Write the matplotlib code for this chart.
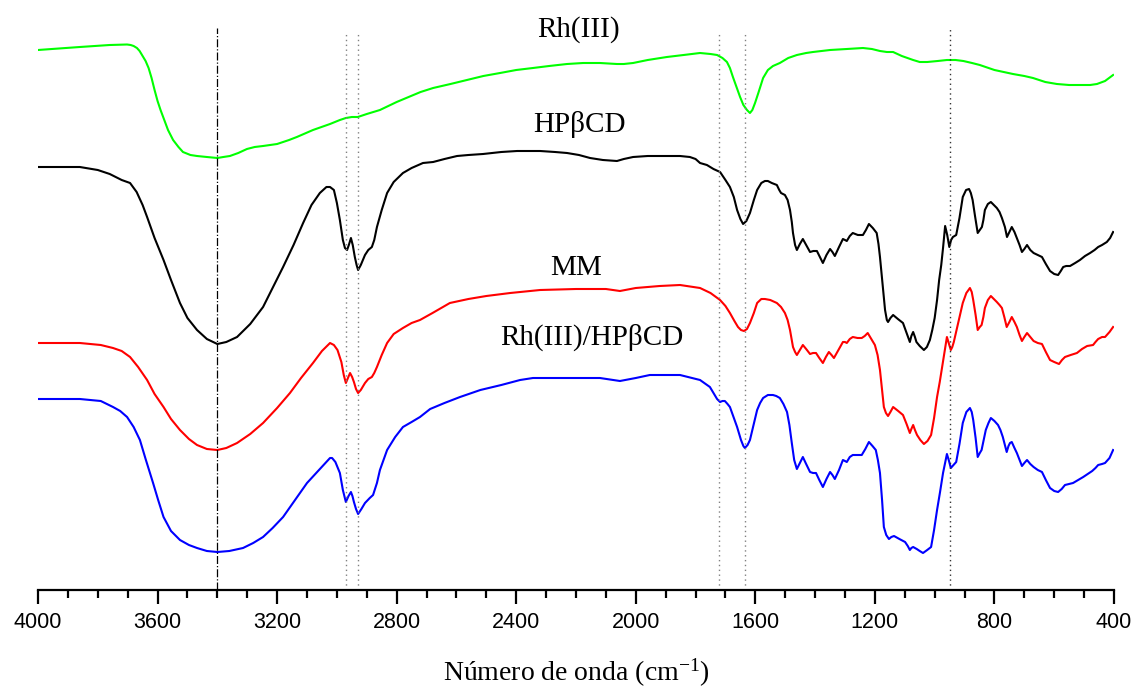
import matplotlib
matplotlib.use("Agg")
import matplotlib.pyplot as plt
from matplotlib.ticker import MultipleLocator

# FTIR spectra: wavenumber (cm-1) and relative transmittance (arbitrary units, offset per trace)
rh_wn = [4000, 3860, 3760, 3702, 3690, 3680, 3669, 3660, 3650, 3640, 3630, 3620, 3610,
         3600, 3590, 3580, 3565, 3548, 3530, 3515, 3490, 3468, 3435, 3400, 3380, 3358,
         3330, 3301, 3275, 3247, 3200, 3160, 3134, 3080, 3023, 2990, 2970, 2950, 2930,
         2900, 2856, 2800, 2760, 2720, 2678, 2620, 2565, 2510, 2454, 2400, 2344, 2290,
         2230, 2176, 2120, 2063, 2040, 2009, 1960, 1896, 1840, 1785, 1750, 1728, 1710,
         1695, 1685, 1675, 1663, 1651, 1640, 1628, 1618, 1610, 1601, 1590, 1574, 1558,
         1541, 1518, 1490, 1461, 1430, 1407, 1350, 1294, 1240, 1210, 1183, 1160, 1139,
         1110, 1072, 1050, 1025, 990, 959, 930, 904, 875, 849, 800, 738, 700, 671, 630,
         591, 550, 514, 480, 457, 430, 403]
rh_t = [540, 543, 545, 545.5, 545, 544, 542, 539, 534, 529, 522, 512, 500,
        489, 480, 472, 460, 450, 443, 438, 435, 434, 433, 432, 433, 434,
        437, 441, 443, 444, 446, 450, 453, 460, 466, 470, 472, 473, 473,
        476, 480, 488, 493, 498, 502, 506, 510, 514, 517, 520, 522, 524,
        526, 527, 527, 526, 526, 527, 530, 533, 535, 537, 536, 535, 532,
        528, 522, 513, 503, 493, 485, 480, 477, 480, 487, 497, 512, 520,
        524, 527, 532, 535, 537, 538, 540, 541, 542, 541, 539, 538, 538,
        534, 530, 528, 528, 529, 530, 530, 529, 527, 525, 520, 516, 514, 512, 508,
        506, 505, 505, 505, 506, 509, 515]

hp_wn = [4000, 3930, 3860, 3800, 3760, 3720, 3692, 3670, 3650, 3635, 3610, 3580, 3555,
         3525, 3500, 3468, 3435, 3400, 3370, 3334, 3290, 3247, 3215, 3180, 3145, 3113,
         3085, 3057, 3035, 3023, 3010, 3000, 2990, 2980, 2973, 2966, 2960, 2953, 2947,
         2940, 2934, 2929, 2920, 2906, 2895, 2883, 2875, 2866, 2850, 2832, 2810, 2779,
         2750, 2712, 2678, 2640, 2598, 2560, 2511, 2450, 2397, 2320, 2270, 2230, 2190,
         2153, 2110, 2063, 2040, 2009, 1960, 1896, 1852, 1819, 1800, 1785, 1762, 1740,
         1718, 1700, 1685, 1672, 1661, 1650, 1641, 1630, 1618, 1605, 1594, 1580, 1568,
         1558, 1545, 1528, 1520, 1514, 1501, 1492, 1484, 1478, 1474, 1467, 1461, 1451,
         1441, 1430, 1417, 1406, 1394, 1384, 1374, 1362, 1350, 1342, 1334, 1320, 1307,
         1300, 1294, 1284, 1274, 1257, 1240, 1230, 1220, 1207, 1194, 1188, 1183, 1175,
         1166, 1160, 1156, 1148, 1139, 1123, 1106, 1095, 1083, 1078, 1072, 1066, 1061,
         1050, 1036, 1026, 1016, 1008, 1000, 992, 985, 978, 972, 965, 958, 951, 945, 939,
         928, 917, 906, 895, 885, 879, 873, 865, 856, 849, 842, 837, 832, 822, 812, 802,
         792, 783, 775, 765, 758, 750, 742, 733, 725, 716, 708, 700, 691, 680, 669, 655,
         641, 628, 614, 600, 587, 578, 570, 560, 547, 530, 514, 497, 480, 465, 453, 440,
         424, 413, 403]
hp_t = [423, 423, 423, 420, 416, 410, 407, 398, 385, 373, 352, 330, 310,
        287, 272, 260, 251, 246, 248, 253, 266, 283, 302, 323, 345, 367,
        385, 397, 403, 403, 400, 387, 370, 350, 342, 340, 345, 352, 345,
        333, 325, 320, 325, 335, 340, 343, 350, 363, 380, 397, 408, 417,
        422, 427, 428, 431, 434, 435, 436, 438, 439, 439, 438, 437, 435,
        432, 430, 429, 431, 433, 434, 434, 434, 433, 431, 427, 425, 421,
        418, 410, 403, 393, 380, 371, 366, 369, 377, 390, 400, 407, 409,
        409, 407, 405, 400, 397, 395, 390, 380, 368, 357, 345, 340, 346,
        351, 345, 338, 339, 339, 333, 327, 335, 341, 338, 334, 343, 351,
        350, 349, 354, 357, 355, 355, 360, 366, 362, 357, 346, 333, 308,
        280, 270, 268, 272, 275, 271, 267, 258, 248, 254, 258, 253, 248,
        244, 240, 243, 250, 260, 272, 290, 310, 325, 342, 364, 355, 343, 350, 353,
        355, 372, 393, 400, 401, 397, 390, 374, 357, 360, 363, 370, 380, 386, 388, 385,
        382, 378, 372, 363, 353, 358, 363, 358, 352, 345, 338, 341, 345, 340, 337, 335,
        333, 326, 319, 316, 315, 319, 323, 324, 324, 327, 330, 334, 337, 340, 343, 345,
        348, 352, 358]

mm_wn = [4000, 3860, 3790, 3749, 3720, 3692, 3665, 3635, 3610, 3580, 3555, 3525, 3495,
         3468, 3435, 3400, 3370, 3334, 3290, 3247, 3200, 3157, 3120, 3080, 3050, 3023,
         3010, 2998, 2985, 2977, 2970, 2963, 2956, 2949, 2943, 2936, 2929, 2920, 2906,
         2895, 2883, 2875, 2866, 2850, 2832, 2810, 2779, 2750, 2722, 2680, 2622, 2560,
         2500, 2420, 2320, 2200, 2100, 2053, 2000, 1920, 1852, 1785, 1750, 1718, 1700,
         1685, 1670, 1658, 1648, 1638, 1628, 1618, 1605, 1594, 1580, 1568, 1550, 1528,
         1514, 1501, 1492, 1484, 1478, 1474, 1467, 1461, 1451, 1441, 1430, 1417, 1407,
         1397, 1386, 1374, 1364, 1354, 1345, 1337, 1322, 1307, 1300, 1294, 1284, 1274,
         1258, 1244, 1234, 1224, 1212, 1200, 1191, 1183, 1176, 1170, 1163, 1156, 1148,
         1139, 1122, 1106, 1094, 1083, 1078, 1072, 1066, 1059, 1048, 1036, 1024, 1012,
         1002, 992, 983, 975, 967, 959, 952, 946, 941, 936, 922, 906, 894, 882, 876, 871,
         863, 856, 849, 843, 837, 832, 822, 812, 802, 792, 783, 775, 767, 759, 750, 742,
         733, 725, 716, 708, 700, 691, 680, 669, 655, 641, 628, 614, 600, 584, 574, 564,
         545, 524, 507, 490, 470, 462, 453, 440, 430, 415, 403]
mm_t = [247, 247, 245, 242, 239, 233, 223, 210, 196, 183, 171, 160, 151,
        145, 141, 140, 142, 147, 156, 167, 182, 197, 212, 227, 239, 247,
        245, 240, 228, 215, 207, 212, 217, 213, 208, 201, 197, 200, 207,
        211, 213, 217, 223, 235, 247, 256, 262, 267, 270, 277, 287, 291,
        294, 297, 300, 301, 301, 299, 302, 304, 305, 302, 297, 290, 284,
        277, 269, 263, 260, 259, 261, 267, 277, 287, 291, 291, 290, 287,
        283, 277, 270, 260, 250, 243, 238, 235, 240, 245, 241, 236, 237,
        237, 232, 227, 233, 238, 235, 232, 240, 248, 248, 247, 251, 253,
        252, 252, 254, 257, 251, 245, 235, 220, 200, 183, 177, 174, 178,
        183, 179, 175, 166, 157, 161, 165, 160, 155, 150, 146, 149, 155,
        172, 193, 208, 223, 238, 253, 246, 240, 243, 248, 266, 287, 297, 302, 298, 290,
        275, 260, 263, 265, 273, 282, 290, 294, 291, 288, 285, 282, 273, 263, 268, 273,
        268, 263, 255, 249, 253, 257, 253, 249, 247, 246, 238, 230, 228, 226, 230, 233,
        235, 237, 241, 244, 245, 248, 251, 253, 253, 258, 263]

cx_wn = [4000, 3860, 3790, 3749, 3725, 3702, 3680, 3659, 3640, 3615, 3598, 3580, 3555,
         3525, 3495, 3468, 3435, 3400, 3360, 3314, 3280, 3247, 3215, 3180, 3140, 3100,
         3060, 3023, 3016, 3005, 2990, 2980, 2970, 2961, 2953, 2948, 2943, 2936, 2929,
         2918, 2906, 2890, 2879, 2866, 2856, 2832, 2805, 2779, 2750, 2722, 2688, 2640,
         2588, 2520, 2450, 2387, 2344, 2300, 2200, 2120, 2053, 2000, 1953, 1900, 1852,
         1785, 1752, 1740, 1728, 1718, 1710, 1702, 1693, 1685, 1673, 1661, 1648, 1640,
         1635, 1626, 1618, 1606, 1594, 1584, 1574, 1558, 1541, 1530, 1518, 1506, 1494,
         1486, 1478, 1470, 1461, 1451, 1441, 1430, 1417, 1407, 1397, 1386, 1374, 1362,
         1350, 1342, 1334, 1320, 1307, 1300, 1294, 1284, 1274, 1258, 1244, 1232, 1220,
         1208, 1197, 1190, 1183, 1176, 1170, 1162, 1153, 1145, 1136, 1118, 1099, 1090,
         1083, 1078, 1072, 1060, 1050, 1039, 1025, 1012, 1002, 992, 982, 972, 965, 959,
         952, 946, 937, 928, 917, 906, 894, 882, 876, 871, 863, 856, 849, 843, 836, 829,
         820, 812, 800, 788, 780, 772, 765, 759, 753, 748, 742, 733, 725, 716, 708, 700,
         691, 680, 669, 655, 641, 628, 614, 600, 587, 575, 564, 550, 537, 520, 503, 488,
         473, 462, 453, 440, 430, 415, 403]
cx_t = [191, 191, 189, 183, 179, 173, 163, 150, 131, 107, 90, 73, 59,
        50, 45, 42, 39, 38, 39, 42, 47, 53, 62, 73, 90, 107,
        120, 132, 132, 128, 117, 100, 88, 94, 98, 94, 88, 81, 76,
        81, 87, 92, 95, 107, 120, 140, 153, 163, 168, 173, 181, 187,
        193, 200, 205, 210, 212, 212, 212, 212, 209, 212, 215, 215, 215,
        210, 203, 197, 191, 188, 189, 189, 186, 183, 173, 163, 150, 144,
        142, 145, 150, 165, 180, 187, 192, 195, 195, 194, 192, 186, 178,
        165, 147, 130, 121, 127, 133, 126, 118, 117, 117, 110, 103, 111,
        118, 115, 111, 120, 130, 129, 128, 133, 135, 135, 135, 141, 148,
        144, 140, 130, 117, 90, 63, 55, 51, 53, 54, 51, 48, 44,
        40, 42, 43, 41, 39, 37, 40, 43, 60, 80, 98, 117, 127, 136,
        129, 122, 125, 128, 146, 167, 178, 182, 178, 170, 152, 133, 137, 140, 150, 160,
        167, 172, 169, 165, 160, 153, 145, 138, 144, 147, 148, 142, 137, 130, 124, 127,
        130, 126, 123, 120, 118, 110, 102, 99, 98, 101, 105, 106, 107, 110, 113, 116,
        119, 122, 125, 126, 127, 132, 140]

# reference band positions (cm-1)
band_dashdot = 3400
bands_gray = [2970, 2930, 1722, 1635]
band_dark = 949

trace_labels = ["Rh(III)", "HP\u03b2CD", "MM", "Rh(III)/HP\u03b2CD"]
label_pos = [(2190, 560), (2187, 465), (2200, 322), (2147, 253)]

xticks = [4000, 3600, 3200, 2800, 2400, 2000, 1600, 1200, 800, 400]

plt.rcParams["mathtext.fontset"] = "custom"
plt.rcParams["mathtext.rm"] = "Liberation Serif"
plt.rcParams["mathtext.it"] = "Liberation Serif:italic"

fig = plt.figure(figsize=(11.36, 6.91), dpi=100)
ax = fig.add_axes([38 / 1136, 101 / 691, 1076 / 1136, 590 / 691])

lw = 1.5
ax.plot(rh_wn, rh_t, color="#00ff00", lw=lw, solid_joinstyle="round")
ax.plot(hp_wn, hp_t, color="black", lw=lw, solid_joinstyle="round")
ax.plot(mm_wn, mm_t, color="#ff0000", lw=lw, solid_joinstyle="round")
ax.plot(cx_wn, cx_t, color="#0000ff", lw=lw, solid_joinstyle="round")

ax.plot([band_dashdot, band_dashdot], [0, 562], color="black", lw=0.9, ls="-.")
for b in bands_gray:
    ax.plot([b, b], [0, 557], color="#808080", lw=1.0, ls=(0, (1, 2.5)))
ax.plot([band_dark, band_dark], [0, 561], color="#333333", lw=1.0, ls=(0, (1, 2.5)))

for txt, (xw, yv) in zip(trace_labels, label_pos):
    ax.text(xw, yv, txt, ha="center", va="center", fontsize=21,
            family="Liberation Serif")

ax.set_xlim(4000, 400)
ax.set_ylim(0, 590)
for s in ("left", "right", "top"):
    ax.spines[s].set_visible(False)
ax.spines["bottom"].set_linewidth(1.6)
ax.set_yticks([])
ax.set_xticks(xticks)
ax.xaxis.set_minor_locator(MultipleLocator(100))
ax.tick_params(axis="x", which="major", direction="out", length=10, width=1.6,
               labelsize=15.5, pad=6)
ax.tick_params(axis="x", which="minor", direction="out", length=6, width=1.6)
for lab in ax.get_xticklabels():
    lab.set_family("Liberation Sans")

ax.set_xlabel("N\u00famero de onda (cm$^{\\mathrm{-1}}$)", fontsize=20,
              family="Liberation Serif", labelpad=17)

fig.savefig("out.png", dpi=100)
